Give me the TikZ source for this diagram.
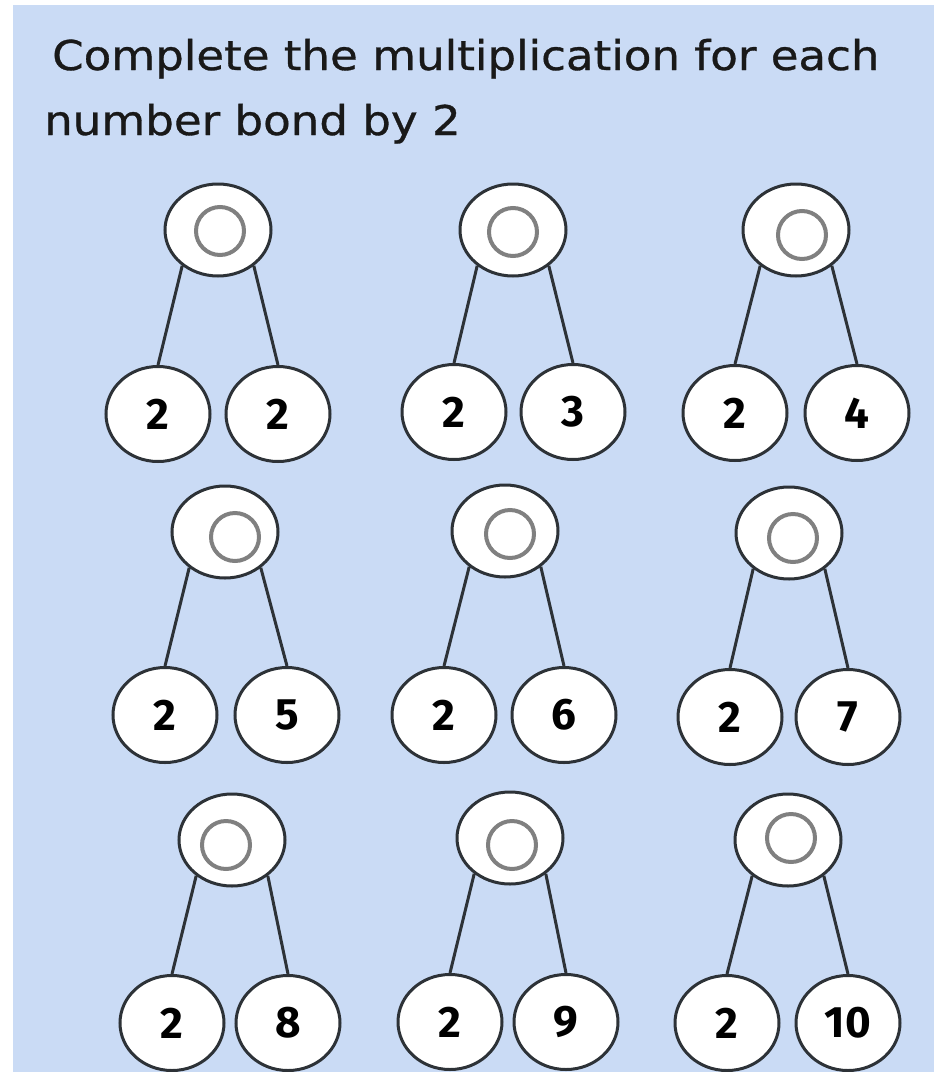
\documentclass[tikz,border=0pt]{standalone}
\usepackage{fontspec}
\setmainfont{Fira Sans}
\newfontfamily\titlefont[FakeStretch=1.1,FakeBold=0.8]{DejaVu Sans}
\usetikzlibrary{shapes.geometric}
\definecolor{bgblue}{RGB}{202,219,245}
\definecolor{linec}{RGB}{45,50,55}
\definecolor{ringc}{RGB}{128,128,128}
\tikzset{
  topc/.style={ellipse, draw=linec, line width=3pt, fill=white, minimum width=106pt, minimum height=92pt, inner sep=0pt},
  botc/.style={ellipse, draw=linec, line width=3pt, fill=white, minimum width=104pt, minimum height=95pt, inner sep=0pt,
    font=\fontsize{44}{44}\selectfont\bfseries, text=black},
  ringn/.style={circle, draw=ringc, line width=4pt, fill=white, minimum size=48pt, inner sep=0pt},
  bondline/.style={draw=linec, line width=3pt},
  titletext/.style={anchor=base west, inner sep=0pt, font=\titlefont\fontsize{41}{41}\selectfont, text=black!90}
}
% #1 name, (#2,#3) top, (#4,#5) ring, (#6,#7) left, (#8,#7) right, #9 right label
\newcommand\numbond[9]{%
  \node[topc] (#1t) at (#2,#3) {};
  \node[ringn] (#1i) at (#4,#5) {};
  \node[botc] (#1l) at (#6,#7) {2};
  \node[botc] (#1r) at (#8,#7) {#9};
  \draw[bondline] (#1t.-135) -- (#1l.north);
  \draw[bondline] (#1t.-45) -- (#1r.north);
}
\begin{document}
\begin{tikzpicture}[x=1pt,y=-1pt]
\useasboundingbox (0,0) rectangle (934,1072);
\fill[white] (0,0) rectangle (934,1072);
\fill[bgblue] (13,5) rectangle (934,1072);
\node[titletext] (title1) at (52,70) {Complete the multiplication for each};
\node[titletext] (title2) at (44,135) {number bond by 2};
\numbond{a}{218}{230}{220}{231}{158}{414}{278}{2}
\numbond{b}{513}{230}{513}{232}{454}{412}{573}{3}
\numbond{c}{796}{230}{802}{235}{735}{413}{857}{4}
\numbond{d}{225}{532}{235}{537}{165}{715}{287}{5}
\numbond{e}{505}{531}{510}{534}{444}{715}{564}{6}
\numbond{f}{789}{533}{793}{538}{730}{717}{848}{7}
\numbond{g}{232}{840}{226}{845}{172}{1023}{288}{8}
\numbond{h}{510}{838}{512}{845}{450}{1022}{566}{9}
\numbond{k}{788}{840}{791}{838}{727}{1023}{848}{10}
\end{tikzpicture}
\end{document}
